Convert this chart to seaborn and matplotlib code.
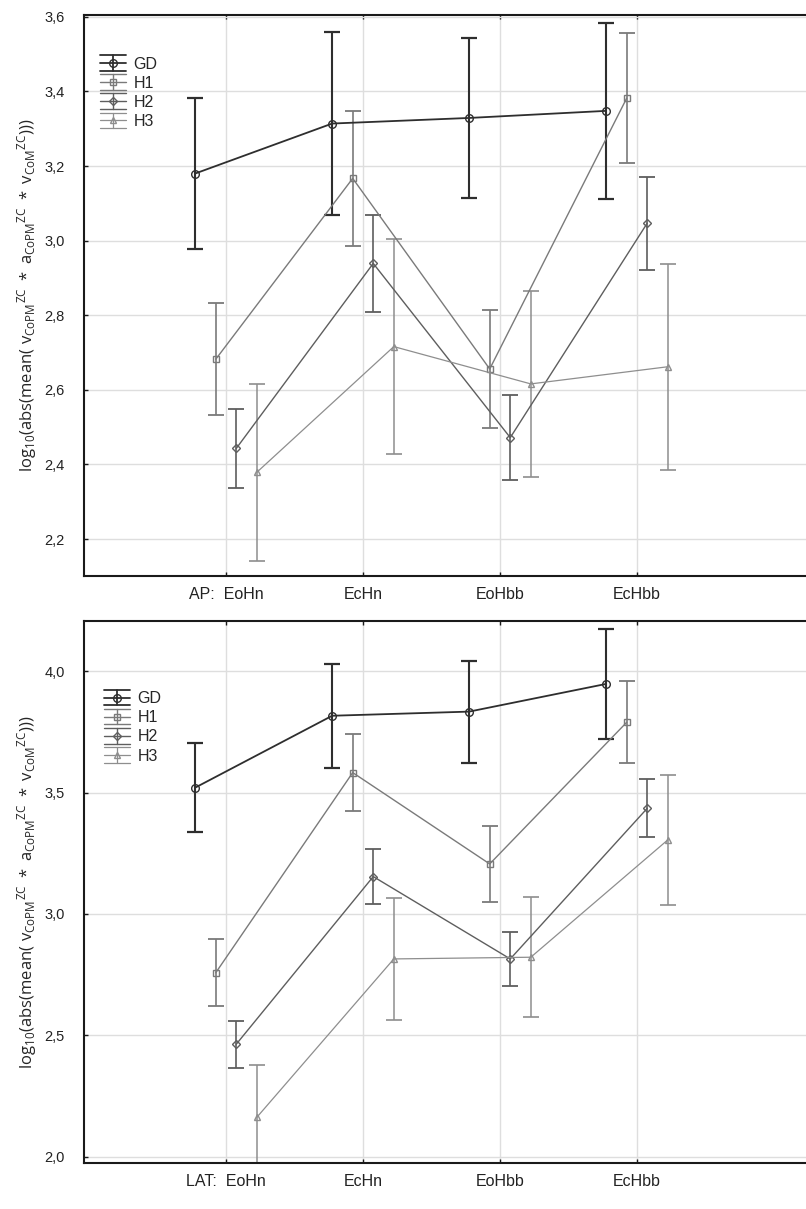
import numpy as np
import pandas as pd
import matplotlib
matplotlib.use("Agg")
import matplotlib.pyplot as plt
import seaborn as sns
from matplotlib.ticker import FuncFormatter, FixedLocator
from matplotlib.legend_handler import HandlerBase
from matplotlib.lines import Line2D

# ---------------- data ----------------
conditions = ["EoHn", "EcHn", "EoHbb", "EcHbb"]
groups = ["GD", "H1", "H2", "H3"]

# AP (top panel): means and half-widths of error bars
ap_gd = [3.180, 3.314, 3.329, 3.348]
ap_gd_err = [0.202, 0.245, 0.214, 0.235]
ap_h1 = [2.682, 3.167, 2.656, 3.382]
ap_h1_err = [0.150, 0.180, 0.157, 0.175]
ap_h2 = [2.443, 2.939, 2.472, 3.047]
ap_h2_err = [0.105, 0.129, 0.114, 0.125]
ap_h3 = [2.379, 2.716, 2.616, 2.662]
ap_h3_err = [0.237, 0.288, 0.250, 0.276]

# LAT (bottom panel)
lat_gd = [3.520, 3.816, 3.833, 3.947]
lat_gd_err = [0.183, 0.215, 0.210, 0.227]
lat_h1 = [2.758, 3.582, 3.206, 3.789]
lat_h1_err = [0.138, 0.159, 0.155, 0.168]
lat_h2 = [2.464, 3.154, 2.815, 3.435]
lat_h2_err = [0.096, 0.112, 0.112, 0.120]
lat_h3 = [2.163, 2.815, 2.822, 3.305]
lat_h3_err = [0.215, 0.250, 0.247, 0.266]

ap_ticks = [2.2, 2.4, 2.6, 2.8, 3.0, 3.2, 3.4, 3.6]
lat_ticks = [2.0, 2.5, 3.0, 3.5, 4.0]

# ---------------- style ----------------
sns.set_theme(style="whitegrid")
plt.rcParams["font.family"] = ["Liberation Sans", "DejaVu Sans"]
plt.rcParams["mathtext.fontset"] = "custom"
plt.rcParams["mathtext.rm"] = "Open Sans"
plt.rcParams["mathtext.it"] = "Open Sans:italic"
plt.rcParams["mathtext.bf"] = "Open Sans:bold"

colors = {"GD": "#2e2e2e", "H1": "#7a7a7a", "H2": "#5e5e5e", "H3": "#8e8e8e"}
markers = {"GD": "o", "H1": "s", "H2": "D", "H3": "^"}
msizes = {"GD": 5.5, "H1": 5.0, "H2": 4.2, "H3": 5.0}
lwidths = {"GD": 1.3, "H1": 1.0, "H2": 1.0, "H3": 0.9}
offsets = {"GD": -0.225, "H1": -0.075, "H2": 0.075, "H3": 0.225}


class StatHandler(HandlerBase):
    def create_artists(self, legend, orig_handle, xdescent, ydescent,
                       width, height, fontsize, trans):
        c = orig_handle.get_color()
        lw = orig_handle.get_linewidth()
        x0, x1 = -xdescent, width - xdescent
        xm = 0.5 * (x0 + x1)
        cy = 0.5 * height - ydescent
        h = 5.6
        arts = [
            Line2D([x0, x1], [cy, cy]),
            Line2D([x0, x1], [cy + h, cy + h]),
            Line2D([x0, x1], [cy - h, cy - h]),
            Line2D([xm, xm], [cy - h, cy + h]),
            Line2D([xm], [cy], marker=orig_handle.get_marker(),
                   markersize=orig_handle.get_markersize(),
                   markerfacecolor="none", markeredgecolor=c,
                   linestyle="none"),
        ]
        for a in arts:
            a.set_color(c)
            a.set_linewidth(lw)
            a.set_transform(trans)
        return arts


def draw(ax, data, ylim, yticks, prefix, leg_xy):
    rows = []
    for g in groups:
        means, errs = data[g]
        for i, c in enumerate(conditions):
            rows.append({"group": g, "x": i + offsets[g], "y": means[i], "e": errs[i]})
    df = pd.DataFrame(rows)

    sns.lineplot(data=df, x="x", y="y", hue="group", style="group",
                 size="group", sizes=lwidths, markers=markers, dashes=False,
                 palette=colors, ax=ax, legend=False, sort=True, zorder=3)
    for line, g in zip(ax.lines, groups):
        line.set_markerfacecolor("none")
        line.set_markeredgecolor(colors[g])
        line.set_markeredgewidth(1.0)
        line.set_markersize(msizes[g])

    for g in groups:
        sub = df[df["group"] == g]
        ax.errorbar(sub["x"], sub["y"], yerr=sub["e"], fmt="none",
                    ecolor=colors[g], elinewidth=lwidths[g] + 0.2,
                    capsize=6, capthick=lwidths[g] + 0.3, zorder=2)

    ax.set_xlim(-1.0365, 4.263)
    ax.set_ylim(*ylim)
    ax.xaxis.set_major_locator(FixedLocator(range(len(conditions))))
    labels = [prefix + "  " + conditions[0]] + conditions[1:]
    ax.set_xticklabels(labels)
    ax.yaxis.set_major_locator(FixedLocator(yticks))
    ax.yaxis.set_major_formatter(FuncFormatter(lambda v, p: f"{v:.1f}".replace(".", ",")))
    ax.set_xlabel("")
    ax.set_ylabel(r"$\mathrm{log_{10}(abs(mean(\ {v_{CoPM}}^{ZC}\ *\ {a_{CoPM}}^{ZC}\ *\ {v_{CoM}}^{ZC})))}$",
                  fontsize=12)
    ax.yaxis.set_label_coords(-0.062, 0.5)

    ax.grid(True, color="#dedede", linewidth=1.0)
    ax.set_axisbelow(True)
    for s in ["left", "bottom", "top"]:
        ax.spines[s].set_visible(True)
        ax.spines[s].set_color("#1a1a1a")
        ax.spines[s].set_linewidth(1.5)
    ax.spines["right"].set_visible(False)
    ax.tick_params(axis="both", direction="in", length=3, width=1, color="#1a1a1a",
                   top=True, bottom=True, left=True, right=False)
    ax.tick_params(axis="x", labelsize=11.5, pad=8, labelcolor="#222222")
    ax.tick_params(axis="y", labelsize=10.5, pad=14, labelcolor="#222222")

    handles = [Line2D([], [], color=colors[g], marker=markers[g], markersize=msizes[g],
                      linewidth=lwidths[g]) for g in groups]
    ax.legend(handles, groups, loc="upper left", bbox_to_anchor=leg_xy,
              frameon=False, fontsize=11.5, borderpad=0, borderaxespad=0,
              handlelength=1.6, handletextpad=0.5, labelspacing=0.26,
              handler_map={Line2D: StatHandler()})


fig = plt.figure(figsize=(8.06, 12.09), dpi=100)
W, H = 806.0, 1209.0
ax1 = fig.add_axes([84 / W, 1 - 576 / H, (810 - 84) / W, (576 - 15) / H])
ax2 = fig.add_axes([84 / W, 1 - 1163 / H, (810 - 84) / W, (1163 - 621) / H])

ap_data = {"GD": (ap_gd, ap_gd_err), "H1": (ap_h1, ap_h1_err),
           "H2": (ap_h2, ap_h2_err), "H3": (ap_h3, ap_h3_err)}
lat_data = {"GD": (lat_gd, lat_gd_err), "H1": (lat_h1, lat_h1_err),
            "H2": (lat_h2, lat_h2_err), "H3": (lat_h3, lat_h3_err)}

draw(ax1, ap_data, (2.101, 3.605), ap_ticks, "AP:", (0.022, 0.926))
draw(ax2, lat_data, (1.975, 4.206), lat_ticks, "LAT:", (0.0275, 0.8706))

fig.savefig("out.png", dpi=100, facecolor="white")
